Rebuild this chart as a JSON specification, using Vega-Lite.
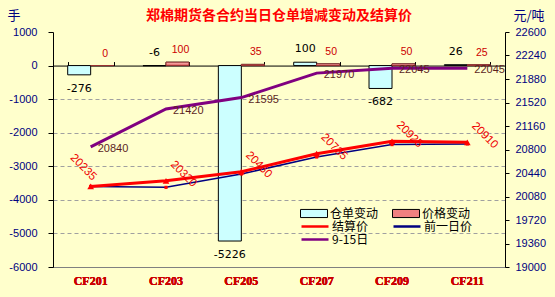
{
  "$schema": "https://vega.github.io/schema/vega-lite/v6.json",
  "width": 452,
  "height": 235,
  "autosize": {"type": "none"},
  "padding": {"left": 53, "top": 32, "right": 50, "bottom": 30},
  "background": "#ffffcc",
  "config": {"view": {"stroke": null}, "font": "Liberation Sans"},
  "title": {
    "text": "郑棉期货各合约当日仓单增减变动及结算价",
    "color": "#ff0000",
    "font": "Noto Sans CJK SC",
    "fontSize": 14,
    "fontWeight": "bold",
    "anchor": "middle",
    "frame": "group",
    "offset": 4,
    "dy": 18
  },
  "datasets": {
    "bars": [
      {"category": "CF201", "series": "仓单变动", "value": -276},
      {"category": "CF201", "series": "价格变动", "value": 0},
      {"category": "CF203", "series": "仓单变动", "value": -6},
      {"category": "CF203", "series": "价格变动", "value": 100},
      {"category": "CF205", "series": "仓单变动", "value": -5226},
      {"category": "CF205", "series": "价格变动", "value": 35},
      {"category": "CF207", "series": "仓单变动", "value": 100},
      {"category": "CF207", "series": "价格变动", "value": 50},
      {"category": "CF209", "series": "仓单变动", "value": -682},
      {"category": "CF209", "series": "价格变动", "value": 50},
      {"category": "CF211", "series": "仓单变动", "value": 26},
      {"category": "CF211", "series": "价格变动", "value": 25}
    ],
    "lines": [
      {"category": "CF201", "series": "结算价", "value": 20235},
      {"category": "CF203", "series": "结算价", "value": 20320},
      {"category": "CF205", "series": "结算价", "value": 20460},
      {"category": "CF207", "series": "结算价", "value": 20735},
      {"category": "CF209", "series": "结算价", "value": 20925},
      {"category": "CF211", "series": "结算价", "value": 20910},
      {"category": "CF201", "series": "前一日价", "value": 20235},
      {"category": "CF203", "series": "前一日价", "value": 20220},
      {"category": "CF205", "series": "前一日价", "value": 20425},
      {"category": "CF207", "series": "前一日价", "value": 20685},
      {"category": "CF209", "series": "前一日价", "value": 20875},
      {"category": "CF211", "series": "前一日价", "value": 20885},
      {"category": "CF201", "series": "9-15日", "value": 20840},
      {"category": "CF203", "series": "9-15日", "value": 21420},
      {"category": "CF205", "series": "9-15日", "value": 21595},
      {"category": "CF207", "series": "9-15日", "value": 21970},
      {"category": "CF209", "series": "9-15日", "value": 22045},
      {"category": "CF211", "series": "9-15日", "value": 22045}
    ]
  },
  "layer": [
    {
      "data": {"name": "bars"},
      "encoding": {
        "x": {
          "field": "category",
          "type": "nominal",
          "sort": null,
          "scale": {"domain": ["CF201", "CF203", "CF205", "CF207", "CF209", "CF211"], "paddingInner": 0.39, "paddingOuter": 0.195},
          "axis": {
            "orient": "bottom",
            "title": null,
            "ticks": false,
            "domainColor": "#808080",
            "labelColor": "#cc0000",
            "labelFont": "Liberation Serif",
            "labelFontWeight": "bold",
            "labelFontSize": 12,
            "labelPadding": 8,
            "labelAngle": 0,
            "grid": false
          }
        },
        "y": {
          "field": "value",
          "type": "quantitative",
          "scale": {"domain": [-6000, 1000], "nice": false, "zero": false},
          "axis": {
            "values": [-6000, -5000, -4000, -3000, -2000, -1000, 0, 1000],
            "labelExpr": "'' + datum.value",
            "domainColor": "#000000",
            "tickColor": "#000000",
            "tickSize": 5,
            "labelPadding": 11,
            "labelColor": "#000080",
            "labelFontSize": 11,
            "grid": true,
            "gridColor": "#a0a0a0",
            "gridDash": [4, 3],
            "gridOpacity": {"condition": {"test": "datum.value === 1000 || datum.value === 0 || datum.value === -6000", "value": 0}, "value": 1},
            "title": "手",
            "titleAngle": 0,
            "titleX": -46,
            "titleY": -17,
            "titleAlign": "left",
            "titleBaseline": "middle",
            "titleColor": "#000080",
            "titleFont": "Noto Sans CJK SC",
            "titleFontSize": 13,
            "titleFontWeight": "normal"
          }
        },
        "xOffset": {"field": "series", "type": "nominal", "scale": {"domain": ["仓单变动", "价格变动"]}}
      },
      "layer": [
        {
          "mark": {"type": "bar", "stroke": "#000000", "strokeWidth": 1},
          "encoding": {
            "fill": {
              "field": "series",
              "type": "nominal",
              "scale": {"domain": ["仓单变动", "价格变动"], "range": ["#ccffff", "#f08080"]},
              "legend": {
                "orient": "none",
                "legendX": 247,
                "legendY": 175,
                "direction": "horizontal",
                "columns": 2,
                "title": null,
                "labelFont": "Noto Sans CJK SC",
                "labelFontSize": 12,
                "labelColor": "#000000",
                "symbolType": "M-1,-0.3H1V0.3H-1Z",
                "symbolSize": 729,
                "symbolStrokeColor": "#000000",
                "symbolStrokeWidth": 1,
                "symbolOpacity": 1,
                "clipHeight": 13,
                "rowPadding": 0,
                "columnPadding": 13,
                "labelOffset": 2
              }
            }
          }
        },
        {
          "transform": [{"filter": "datum.series === '价格变动'"}],
          "mark": {
            "type": "bar",
            "stroke": "#993333",
            "strokeWidth": 1,
            "color": {
              "gradient": "linear",
              "x1": 0, "y1": 0, "x2": 0, "y2": 1,
              "stops": [{"offset": 0, "color": "#ffc0c0"}, {"offset": 1, "color": "#e05a5a"}]
            }
          },
          "encoding": {
            "x": {
              "field": "category",
              "type": "nominal",
              "sort": null,
              "scale": {"domain": ["CF201", "CF203", "CF205", "CF207", "CF209", "CF211"], "paddingInner": 0.39, "paddingOuter": 0.195},
              "axis": {
                "orient": "top",
                "offset": -33.57,
                "labels": false,
                "title": null,
                "ticks": true,
                "tickSize": 4,
                "tickBand": "extent",
                "tickColor": "#000000",
                "domainColor": "#000000",
                "grid": false
              }
            }
          }
        },
        {
          "transform": [{"filter": "datum.series === '仓单变动' && datum.value >= -10"}],
          "mark": {"type": "text", "baseline": "bottom", "dy": -8, "font": "DejaVu Sans", "fontSize": 11, "color": "#000000"},
          "encoding": {"text": {"field": "value", "type": "nominal"}}
        },
        {
          "transform": [{"filter": "datum.series === '仓单变动' && datum.value < -10"}],
          "mark": {"type": "text", "baseline": "top", "dy": 8, "font": "DejaVu Sans", "fontSize": 11, "color": "#000000"},
          "encoding": {"text": {"field": "value", "type": "nominal"}}
        },
        {
          "transform": [{"filter": "datum.series === '价格变动'"}],
          "mark": {"type": "text", "baseline": "bottom", "dy": -7, "dx": 3, "font": "Liberation Sans", "fontSize": 10.5, "color": "#cc0000"},
          "encoding": {"text": {"field": "value", "type": "nominal"}}
        }
      ]
    },
    {
      "data": {"name": "lines"},
      "encoding": {
        "x": {"field": "category", "type": "nominal", "sort": null, "axis": null},
        "y": {
          "field": "value",
          "type": "quantitative",
          "scale": {"domain": [19000, 22600], "nice": false, "zero": false},
          "axis": {
            "orient": "right",
            "values": [19000, 19360, 19720, 20080, 20440, 20800, 21160, 21520, 21880, 22240, 22600],
            "labelExpr": "'' + datum.value",
            "domainColor": "#000000",
            "tickColor": "#000000",
            "tickSize": 4,
            "labelPadding": 6,
            "labelColor": "#000080",
            "labelFontSize": 11,
            "grid": false,
            "title": "元/吨",
            "titleAngle": 0,
            "titleX": 8,
            "titleY": -17,
            "titleAlign": "left",
            "titleBaseline": "middle",
            "titleColor": "#000080",
            "titleFont": "Noto Sans CJK SC",
            "titleFontSize": 13,
            "titleFontWeight": "normal"
          }
        }
      },
      "layer": [
        {
          "transform": [{"filter": "datum.series === '9-15日'"}],
          "mark": {"type": "line", "strokeWidth": 3},
          "encoding": {
            "stroke": {
              "field": "series",
              "type": "nominal",
              "scale": {"domain": ["结算价", "前一日价", "9-15日"], "range": ["#ff0000", "#000080", "#800080"]},
              "legend": {
                "orient": "none",
                "legendX": 247,
                "legendY": 188,
                "direction": "horizontal",
                "columns": 2,
                "title": null,
                "labelFont": "Noto Sans CJK SC",
                "labelFontSize": 12,
                "labelColor": "#000000",
                "symbolType": "stroke",
                "symbolSize": 729,
                "symbolStrokeWidth": 2.5,
                "symbolOpacity": 1,
                "clipHeight": 13,
                "rowPadding": 0,
                "columnPadding": 23,
                "labelOffset": 2
              }
            }
          }
        },
        {
          "transform": [{"filter": "datum.series === '前一日价'"}],
          "mark": {"type": "line", "strokeWidth": 1.5},
          "encoding": {
            "stroke": {
              "field": "series",
              "type": "nominal",
              "scale": {"domain": ["结算价", "前一日价", "9-15日"], "range": ["#ff0000", "#000080", "#800080"]},
              "legend": {
                "orient": "none",
                "legendX": 247,
                "legendY": 188,
                "direction": "horizontal",
                "columns": 2,
                "title": null,
                "labelFont": "Noto Sans CJK SC",
                "labelFontSize": 12,
                "labelColor": "#000000",
                "symbolType": "stroke",
                "symbolSize": 729,
                "symbolStrokeWidth": 2.5,
                "symbolOpacity": 1,
                "clipHeight": 13,
                "rowPadding": 0,
                "columnPadding": 23,
                "labelOffset": 2
              }
            }
          }
        },
        {
          "transform": [{"filter": "datum.series === '前一日价'"}],
          "mark": {"type": "point", "shape": "square", "filled": true, "size": 10, "color": "#ff0000", "opacity": 1}
        },
        {
          "transform": [{"filter": "datum.series === '结算价'"}],
          "mark": {"type": "line", "strokeWidth": 3},
          "encoding": {
            "stroke": {
              "field": "series",
              "type": "nominal",
              "scale": {"domain": ["结算价", "前一日价", "9-15日"], "range": ["#ff0000", "#000080", "#800080"]},
              "legend": {
                "orient": "none",
                "legendX": 247,
                "legendY": 188,
                "direction": "horizontal",
                "columns": 2,
                "title": null,
                "labelFont": "Noto Sans CJK SC",
                "labelFontSize": 12,
                "labelColor": "#000000",
                "symbolType": "stroke",
                "symbolSize": 729,
                "symbolStrokeWidth": 2.5,
                "symbolOpacity": 1,
                "clipHeight": 13,
                "rowPadding": 0,
                "columnPadding": 23,
                "labelOffset": 2
              }
            }
          }
        },
        {
          "transform": [{"filter": "datum.series === '结算价'"}],
          "mark": {"type": "point", "shape": "triangle-up", "filled": true, "size": 45, "color": "#ff0000", "opacity": 1}
        },
        {
          "transform": [{"filter": "datum.series === '9-15日'"}],
          "mark": {"type": "text", "align": "left", "baseline": "middle", "dx": 7, "dy": 2, "font": "Liberation Sans", "fontSize": 11, "color": "#5c1f1f"},
          "encoding": {"text": {"field": "value", "type": "nominal"}}
        },
        {
          "transform": [{"filter": "datum.series === '结算价' && datum.category === 'CF201'"}],
          "mark": {"type": "text", "align": "center", "baseline": "middle", "angle": 45, "dx": -18.7, "dy": -8, "font": "Liberation Sans", "fontSize": 11.5, "color": "#ee0000"},
          "encoding": {"text": {"field": "value", "type": "nominal"}}
        },
        {
          "transform": [{"filter": "datum.series === '结算价' && datum.category !== 'CF201'"}],
          "mark": {"type": "text", "align": "center", "baseline": "middle", "angle": 45, "dx": 7.5, "dy": -17, "font": "Liberation Sans", "fontSize": 11.5, "color": "#ee0000"},
          "encoding": {"text": {"field": "value", "type": "nominal"}}
        }
      ]
    }
  ],
  "resolve": {"scale": {"y": "independent"}}
}
